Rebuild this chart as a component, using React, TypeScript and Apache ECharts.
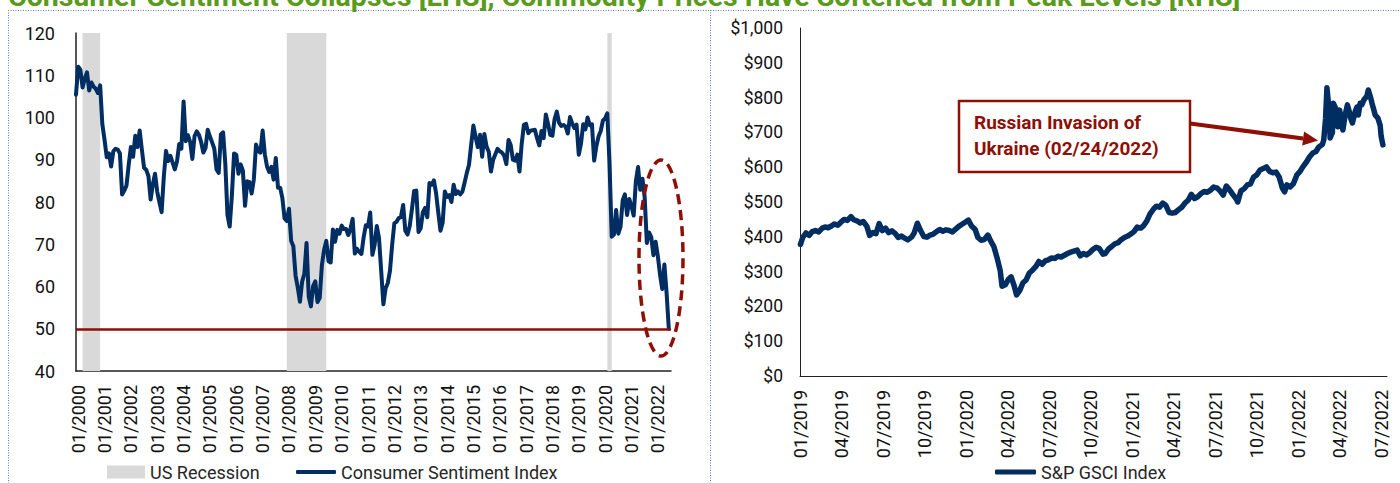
import React, { useEffect, useRef } from "react";
import * as echarts from "echarts";

// ---------- DATA ----------
// University of Michigan Consumer Sentiment, monthly, 12/1999 .. 06/2022
const sentimentStart = { year: 1999, month: 12 };
const sentimentAxisMonths = 272; // 12/1999 .. 07/2022
const sentimentValues = [
  105.4,
  112.0, 111.3, 107.1, 109.2, 110.7, 106.4, 108.3, 107.3, 106.8, 105.8, 107.6, 98.4,
  94.7, 90.6, 91.5, 88.4, 92.0, 92.6, 92.4, 91.5, 81.8, 82.7, 83.9, 88.8,
  93.0, 90.7, 95.7, 93.0, 96.9, 92.4, 88.1, 87.6, 86.1, 80.6, 84.2, 86.7,
  82.4, 79.9, 77.6, 86.0, 92.1, 89.7, 90.9, 89.3, 87.7, 89.6, 93.7, 92.6,
  103.8, 94.4, 95.8, 94.2, 90.2, 95.6, 96.7, 95.9, 94.2, 91.7, 92.8, 97.1,
  95.5, 94.1, 92.6, 87.7, 86.9, 96.0, 96.5, 89.1, 76.9, 74.2, 81.6, 91.5,
  91.2, 86.7, 88.9, 87.4, 79.1, 84.9, 84.7, 82.0, 85.4, 93.6, 92.1, 91.7,
  96.9, 91.3, 88.4, 87.1, 88.3, 85.3, 90.4, 83.4, 83.4, 80.9, 76.1, 75.5,
  78.4, 70.8, 69.5, 62.6, 59.8, 56.4, 61.2, 63.0, 70.3, 57.6, 55.3, 60.1,
  61.2, 56.3, 57.3, 65.1, 68.7, 70.8, 66.0, 65.7, 73.5, 70.6, 73.4, 72.5,
  74.4, 73.6, 73.6, 72.2, 73.6, 76.0, 67.8, 68.9, 68.2, 67.7, 71.6, 74.5,
  74.2, 77.5, 67.5, 69.8, 74.3, 71.5, 63.7, 55.8, 59.5, 60.8, 63.7, 69.9,
  75.0, 75.3, 76.2, 76.4, 79.3, 73.2, 72.3, 74.3, 78.3, 82.6, 82.7, 72.9,
  73.8, 77.6, 78.6, 76.4, 84.5, 84.1, 85.1, 82.1, 77.5, 73.2, 75.1, 82.5,
  81.2, 81.6, 80.0, 84.1, 81.9, 82.5, 81.8, 82.5, 84.6, 86.9, 88.8, 93.6,
  98.1, 95.4, 93.0, 95.9, 90.7, 96.1, 93.1, 91.9, 87.2, 90.0, 91.3, 92.6,
  92.0, 91.7, 91.0, 89.0, 94.7, 93.5, 90.0, 89.8, 91.2, 87.2, 93.8, 98.2,
  98.5, 96.3, 96.9, 97.0, 97.1, 95.1, 93.4, 96.8, 95.1, 100.7, 98.5, 95.9,
  95.7, 99.7, 101.4, 98.8, 98.0, 98.2, 97.9, 96.2, 100.1, 98.6, 97.5, 98.3,
  91.2, 93.8, 98.4, 97.2, 100.0, 98.2, 98.4, 89.8, 93.2, 95.5, 96.8, 99.3,
  99.8, 101.0, 89.1, 71.8, 72.3, 78.1, 72.5, 74.1, 80.4, 81.8, 76.9, 80.7,
  79.0, 76.8, 84.9, 88.3, 82.9, 85.5, 81.2, 70.3, 72.8, 71.7, 67.4, 70.6,
  67.2, 62.8, 59.4, 65.2, 58.4, 50.0,
];
const recessionPeriods = [
  ["03/2000", "11/2000"],
  ["12/2007", "06/2009"],
  ["02/2020", "04/2020"],
];
const floorLevel = 50;

// S&P GSCI Index
const gsciDates = [
  "2019-01-02", "2019-01-07", "2019-01-14", "2019-01-21", "2019-01-28", "2019-02-04", "2019-02-11", "2019-02-19",
  "2019-02-25", "2019-03-04", "2019-03-11", "2019-03-18", "2019-03-25", "2019-04-01", "2019-04-08", "2019-04-15",
  "2019-04-23", "2019-04-29", "2019-05-06", "2019-05-13", "2019-05-20", "2019-05-28", "2019-06-03", "2019-06-10",
  "2019-06-17", "2019-06-24", "2019-07-01", "2019-07-08", "2019-07-15", "2019-07-22", "2019-07-29", "2019-08-05",
  "2019-08-12", "2019-08-19", "2019-08-26", "2019-09-03", "2019-09-09", "2019-09-16", "2019-09-23", "2019-09-30",
  "2019-10-07", "2019-10-14", "2019-10-21", "2019-10-28", "2019-11-04", "2019-11-11", "2019-11-18", "2019-11-25",
  "2019-12-02", "2019-12-09", "2019-12-16", "2019-12-23", "2019-12-30",
  "2020-01-06", "2020-01-13", "2020-01-21", "2020-01-27", "2020-02-03", "2020-02-10", "2020-02-18", "2020-02-24",
  "2020-03-02", "2020-03-09", "2020-03-16", "2020-03-20", "2020-03-27", "2020-04-03", "2020-04-09", "2020-04-15",
  "2020-04-21", "2020-04-28", "2020-05-05", "2020-05-12", "2020-05-19", "2020-05-26", "2020-06-02", "2020-06-09",
  "2020-06-16", "2020-06-23", "2020-06-30", "2020-07-07", "2020-07-14", "2020-07-21", "2020-07-28", "2020-08-04",
  "2020-08-11", "2020-08-18", "2020-08-25", "2020-09-01", "2020-09-08", "2020-09-15", "2020-09-22", "2020-09-29",
  "2020-10-06", "2020-10-13", "2020-10-20", "2020-10-28", "2020-11-02", "2020-11-09", "2020-11-16", "2020-11-23",
  "2020-11-30", "2020-12-07", "2020-12-14", "2020-12-21", "2020-12-28",
  "2021-01-04", "2021-01-11", "2021-01-19", "2021-01-25", "2021-02-01", "2021-02-08", "2021-02-16", "2021-02-22",
  "2021-03-01", "2021-03-08", "2021-03-15", "2021-03-22", "2021-03-29", "2021-04-05", "2021-04-12", "2021-04-19",
  "2021-04-26", "2021-05-03", "2021-05-10", "2021-05-17", "2021-05-24", "2021-06-01", "2021-06-07", "2021-06-14",
  "2021-06-21", "2021-06-28", "2021-07-06", "2021-07-12", "2021-07-19", "2021-07-26", "2021-08-02", "2021-08-09",
  "2021-08-16", "2021-08-20", "2021-08-27", "2021-09-03", "2021-09-10", "2021-09-17", "2021-09-24", "2021-10-01",
  "2021-10-08", "2021-10-15", "2021-10-22", "2021-10-29", "2021-11-05", "2021-11-12", "2021-11-19", "2021-11-26",
  "2021-12-01", "2021-12-06", "2021-12-13", "2021-12-20", "2021-12-28",
  "2022-01-04", "2022-01-10", "2022-01-18", "2022-01-25", "2022-02-01", "2022-02-08", "2022-02-14", "2022-02-22",
  "2022-02-25", "2022-03-01", "2022-03-04", "2022-03-09", "2022-03-11", "2022-03-16", "2022-03-18", "2022-03-23",
  "2022-03-28", "2022-04-01", "2022-04-08", "2022-04-13", "2022-04-18", "2022-04-22", "2022-04-25", "2022-04-29",
  "2022-05-05", "2022-05-09", "2022-05-12", "2022-05-16", "2022-05-20", "2022-05-24", "2022-05-31", "2022-06-03",
  "2022-06-08", "2022-06-11", "2022-06-15", "2022-06-18", "2022-06-24", "2022-06-29", "2022-07-01", "2022-07-05",
];
const gsciValues = [
  378, 398, 411, 404, 415, 418, 414, 425,
  428, 426, 431, 437, 433, 442, 450, 447,
  458, 449, 446, 440, 444, 430, 404, 412,
  409, 438, 418, 425, 412, 417, 410, 398,
  402, 396, 391, 399, 411, 439, 418, 401,
  399, 405, 408, 415, 421, 416, 420, 418,
  414, 422, 430, 436, 442,
  448, 431, 421, 398, 390, 392, 405, 388,
  372, 340, 303, 258, 262, 278, 285, 262,
  233, 246, 268, 276, 296, 304, 314, 329,
  321, 331, 334, 339, 338, 344, 342, 347,
  352, 356, 359, 362, 345, 352, 348, 355,
  364, 370, 366, 350, 352, 365, 372, 380,
  383, 392, 398, 402, 408,
  415, 428, 425, 432, 445, 465, 480, 488,
  485, 497, 490, 470, 468, 470, 478, 485,
  497, 505, 522, 510, 515, 525, 530, 528,
  534, 543, 540, 532, 520, 546, 535, 522,
  510, 500, 532, 538, 549, 552, 572, 578,
  592, 596, 601, 588, 584, 586, 572, 540,
  529, 549, 543, 552, 578,
  588, 601, 615, 630, 641, 645, 658, 665,
  678, 740, 828, 760, 684, 700, 784, 770,
  716, 764, 707, 750, 779, 760, 741, 727,
  760, 773, 750, 784, 780, 793, 805, 822,
  800, 784, 765, 750, 741, 720, 690, 664,
];
const gsciAxisStart = "2019-01-01";
const gsciAxisEnd = "2022-07-14";
const gsciLastTick = "2022-07-01";
const gsciTickCount = 14; // quarterly ticks 01/2019 .. 07/2022

const titleText =
  "Consumer Sentiment Collapses [LHS], Commodity Prices Have Softened from Peak Levels [RHS]";
const annotationText = "Russian Invasion of\nUkraine (02/24/2022)";

// ---------- STYLE ----------
const NAVY = "#002D62";
const RED = "#8E0F05";
const GRAY = "#D9D9D9";
const FONT = "Roboto, 'Liberation Sans', sans-serif";

const DAY_MS = 86400000;
const toUTC = (s: string) => {
  const [y, m, d] = s.split("-").map(Number);
  return Date.UTC(y, m - 1, d);
};
const dayOf = (s: string) => (toUTC(s) - toUTC(gsciAxisStart)) / DAY_MS;

export default function App() {
  const ref = useRef<HTMLDivElement>(null);

  useEffect(() => {
    if (!ref.current) return;
    const chart = echarts.init(ref.current, undefined, { renderer: "svg" });

    const months: string[] = [];
    for (let i = 0; i < sentimentAxisMonths; i++) {
      const k = sentimentStart.month - 1 + i;
      const m = (k % 12) + 1;
      const y = sentimentStart.year + Math.floor(k / 12);
      months.push(`${String(m).padStart(2, "0")}/${y}`);
    }

    const gsciData = gsciDates.map((d, i) => [dayOf(d), gsciValues[i]]);
    const lastTickDay = dayOf(gsciLastTick);
    const tickInterval = lastTickDay / gsciTickCount;
    const axisEndDay = dayOf(gsciAxisEnd);
    const startYear = Number(gsciAxisStart.slice(0, 4));

    const axisLabelStyle = { color: "#111", fontFamily: FONT, fontSize: 18 };
    const legendText = { color: "#262626", fontFamily: FONT, fontSize: 18 };

    // arrow geometry
    const ax0 = 1190, ay0 = 123.5, tx = 1318, ty = 140.5;
    const len = Math.hypot(tx - ax0, ty - ay0);
    const ux = (tx - ax0) / len, uy = (ty - ay0) / len;
    const bx = tx - 15 * ux, by = ty - 15 * uy;
    const hw = 7;

    chart.setOption({
      animation: false,
      backgroundColor: "#fff",
      textStyle: { fontFamily: FONT },
      grid: [
        { left: 76, top: 33, width: 595, height: 338, containLabel: false },
        { left: 800, top: 28, width: 587, height: 348, containLabel: false },
      ],
      xAxis: [
        {
          type: "category",
          gridIndex: 0,
          data: months,
          boundaryGap: false,
          axisLine: { show: true, lineStyle: { color: "#222", width: 1.5 } },
          axisTick: { show: false },
          splitLine: { show: false },
          axisLabel: {
            ...axisLabelStyle,
            rotate: 90,
            margin: 14,
            interval: (idx: number, val: string) => val.startsWith("01/"),
          },
        },
        {
          type: "value",
          gridIndex: 1,
          min: 0,
          max: axisEndDay,
          interval: tickInterval,
          axisLine: { show: true, lineStyle: { color: "#222", width: 1 } },
          axisTick: { show: false },
          splitLine: { show: false },
          axisLabel: {
            ...axisLabelStyle,
            rotate: 90,
            margin: 14,
            showMaxLabel: true,
            formatter: (v: number) => {
              const q = v / tickInterval;
              if (Math.abs(q - Math.round(q)) > 0.01) return "";
              const mi = Math.round(q) * 3;
              const y = startYear + Math.floor(mi / 12);
              const m = (mi % 12) + 1;
              return `${String(m).padStart(2, "0")}/${y}`;
            },
          },
        },
      ],
      yAxis: [
        {
          type: "value",
          gridIndex: 0,
          min: 40,
          max: 120,
          interval: 10,
          axisLine: { show: true, lineStyle: { color: "#222", width: 1.5 } },
          axisTick: { show: false },
          splitLine: { show: false },
          axisLabel: { ...axisLabelStyle, margin: 21 },
        },
        {
          type: "value",
          gridIndex: 1,
          min: 0,
          max: 1000,
          interval: 100,
          axisLine: { show: true, lineStyle: { color: "#222", width: 1 } },
          axisTick: { show: false },
          splitLine: { show: false },
          axisLabel: {
            ...axisLabelStyle,
            fontSize: 17.5,
            margin: 17,
            formatter: (v: number) => "$" + v.toLocaleString("en-US"),
          },
        },
      ],
      legend: [
        {
          left: 107,
          top: 463,
          padding: 0,
          itemWidth: 38,
          itemHeight: 13,
          textStyle: legendText,
          data: [{ name: "US Recession", icon: "rect" }],
        },
        {
          left: 296,
          top: 463,
          padding: 0,
          itemWidth: 40,
          itemHeight: 4,
          textStyle: legendText,
          data: [{ name: "Consumer Sentiment Index", icon: "roundRect" }],
        },
        {
          left: 995,
          top: 463,
          padding: 0,
          itemWidth: 41,
          itemHeight: 5,
          textStyle: legendText,
          data: [{ name: "S&P GSCI Index", icon: "roundRect" }],
        },
      ],
      series: [
        {
          name: "US Recession",
          type: "line",
          xAxisIndex: 0,
          yAxisIndex: 0,
          data: [],
          color: GRAY,
          itemStyle: { color: GRAY },
          lineStyle: { color: GRAY },
          symbol: "none",
        },
        {
          name: "Consumer Sentiment Index",
          type: "line",
          xAxisIndex: 0,
          yAxisIndex: 0,
          data: sentimentValues,
          symbol: "none",
          color: NAVY,
          itemStyle: { color: NAVY },
          lineStyle: { color: NAVY, width: 4, join: "round", cap: "round" },
          z: 3,
          markArea: {
            silent: true,
            itemStyle: { color: GRAY },
            data: recessionPeriods.map(([a, b]) => [{ xAxis: a }, { xAxis: b }]),
          },
          markLine: {
            silent: true,
            symbol: "none",
            label: { show: false },
            lineStyle: { color: RED, width: 2.5, type: "solid" },
            data: [{ yAxis: floorLevel }],
          },
        },
        {
          name: "S&P GSCI Index",
          type: "line",
          xAxisIndex: 1,
          yAxisIndex: 1,
          data: gsciData,
          symbol: "none",
          color: NAVY,
          itemStyle: { color: NAVY },
          lineStyle: { color: NAVY, width: 5.5, join: "round", cap: "round" },
          z: 3,
        },
      ],
      graphic: [
        {
          type: "text",
          x: 8,
          y: -4,
          style: {
            text: titleText,
            fontFamily: FONT,
            fontSize: 28.5,
            fontWeight: "bold",
            fill: "#5A9A1C",
            align: "left",
            verticalAlign: "middle",
          },
        },
        {
          type: "line",
          shape: { x1: 8, y1: 10.5, x2: 1400, y2: 10.5 },
          style: { stroke: "#5E7FB0", lineWidth: 1, lineDash: [1, 1.5] },
        },
        {
          type: "line",
          shape: { x1: 8.5, y1: 10, x2: 8.5, y2: 483 },
          style: { stroke: "#5E7FB0", lineWidth: 1, lineDash: [1, 1.5] },
        },
        {
          type: "line",
          shape: { x1: 710.5, y1: 10, x2: 710.5, y2: 483 },
          style: { stroke: "#5E7FB0", lineWidth: 1, lineDash: [1, 1.5] },
        },
        {
          type: "ellipse",
          shape: { cx: 661, cy: 258, rx: 22, ry: 98 },
          style: { fill: "none", stroke: RED, lineWidth: 3.5, lineDash: [10, 6] },
          z: 10,
        },
        {
          type: "rect",
          shape: { x: 959, y: 101, width: 231, height: 71 },
          style: { fill: "#fff", stroke: RED, lineWidth: 2.5 },
          z: 10,
        },
        {
          type: "text",
          x: 974,
          y: 135,
          style: {
            text: annotationText,
            fontFamily: FONT,
            fontSize: 19,
            fontWeight: "bold",
            lineHeight: 26,
            fill: RED,
            align: "left",
            verticalAlign: "middle",
          },
          z: 11,
        },
        {
          type: "line",
          shape: { x1: ax0, y1: ay0, x2: bx, y2: by },
          style: { stroke: RED, lineWidth: 4 },
          z: 10,
        },
        {
          type: "polygon",
          shape: {
            points: [
              [tx, ty],
              [bx - hw * uy, by + hw * ux],
              [bx + hw * uy, by - hw * ux],
            ],
          },
          style: { fill: RED },
          z: 10,
        },
      ],
    });

    return () => chart.dispose();
  }, []);

  return (
    <div
      ref={ref}
      style={{ position: "absolute", left: 0, top: 0, width: 1400, height: 483 }}
    />
  );
}
